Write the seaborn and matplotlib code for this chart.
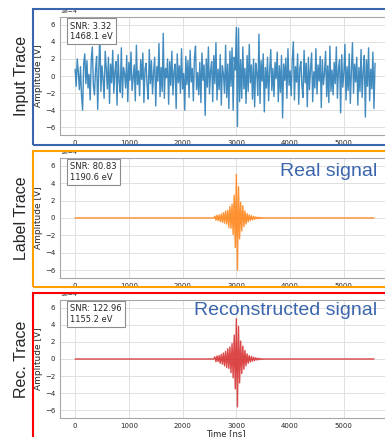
import numpy as np
import pandas as pd
import seaborn as sns
import matplotlib.pyplot as plt
from matplotlib.patches import Rectangle

# amplitudes in units of 1e-4 V
noise_step = 20  # ns between samples of the input trace
input_trace = [
    0.8, -1.2, 2.0, 0.4, -1.6, 1.1, -2.4, -4.0, 1.5, 2.6, -0.9, 1.8, -1.4, 0.2, -2.8, 1.9, 3.4, -1.1, -2.2, 0.7,
    2.3, -3.9, 0.6, 5.1, -1.8, 1.2, -0.3, -2.6, 2.9, 0.9, -1.5, 2.2, -3.2, 1.4, -0.8, 3.0, -2.0, 0.5, 1.7, -3.4,
    2.5, -0.7, -1.9, 3.3, -2.5, 1.0, 0.3, -1.4, 2.4, -3.0, 1.6, -0.5, 2.8, -1.7, -0.2, 1.3, -2.9, 3.6, -1.0, 0.6,
    -2.3, 1.9, -0.4, 2.7, -3.1, 0.8, 1.5, -1.2, -2.7, 3.1, -0.9, 1.8, -2.1, 0.4, 2.2, -3.5, 1.1, -0.6, 3.8, -2.4,
    1.0, -1.8, 5.0, -2.6, 0.9, -0.2, 2.0, -3.3, 1.7, -1.1, 2.9, -2.2, 0.5, 1.4, -3.8, 2.6, -0.8, 1.2, -2.0, 3.2,
    -1.5, 0.3, -4.0, 2.3, -1.0, 1.8, -2.5, 3.0, -0.7, 0.9, -2.9, 2.1, 3.5, -1.6, 0.4, -2.2, 1.6, -3.1, 2.7, -0.5,
    1.3, -4.6, 2.0, -1.3, 3.4, -2.1, 0.6, 1.7, -3.0, 2.4, -0.9, 3.9, -2.8, 0.8, -1.6, 2.5, -3.4, 1.2, 0.2, -2.0,
    3.6, -2.5, 1.4, -3.8, 2.9, -1.2, 3.3, -4.0, 2.2, 0.7, 5.7, -5.9, 5.6, -3.0, 1.9, -2.6, 3.4, -1.5, 0.9, -3.2,
    2.4, -1.8, 3.7, -0.8, 1.3, -2.7, 2.0, -3.6, 1.5, 0.4, -2.3, 4.9, -3.2, 1.8, -0.6, 2.6, -4.2, 1.0, -1.4, 2.2,
    -2.9, 0.7, 3.1, -1.7, 0.9, -2.4, 1.6, -0.3, 2.8, -3.0, 1.2, -1.9, 2.4, -4.9, 1.4, -0.5, 2.1, -2.6, 3.2, -1.1,
    0.6, -2.3, 1.8, 4.0, -2.8, 1.1, -0.7, 2.6, -3.3, 0.9, 1.7, -1.2, -2.5, 3.0, -0.8, 1.5, -3.6, 2.2, -1.6, 0.8,
    2.7, -3.0, 0.5, -1.4, 3.2, -2.1, 1.3, -0.6, 2.3, -3.7, 1.9, -1.0, 0.3, 2.9, -2.4, 1.2, -3.1, 3.5, -1.8, 0.7,
    -2.2, 1.6, -0.9, 3.4, -2.6, 0.8, 1.9, -4.3, 2.5, -1.3, 0.4, 3.7, -2.8, 1.1, -1.7, 2.6, -3.2, 0.6, 3.9, -2.0,
    1.4, -0.7, 2.2, -3.4, 1.0, -1.8, 3.1, -2.5, 0.5, 2.4, -4.8, 1.9, -1.2, 3.3, -2.9, 0.8, -1.5, 2.8, -3.8, 1.5,
]

pulse_start = 2600
pulse_step = 20
trace_end = 5560
label_pulse = [
    0.2, -0.25, 0.3, -0.3, 0.35, -0.4, 0.45, -0.5, 0.6, -0.6,
    0.8, -0.7, 0.9, -1.1, 1.3, -1.2, 1.6, -1.9, 2.6, -3.4,
    5.0, -6.0, 3.6, -2.4, 1.8, -1.5, 1.4, -1.0, 0.8, -0.7,
    0.5, -0.45, 0.35, -0.3, 0.25, -0.22, 0.18, -0.15, 0.12, -0.1,
    0.08, -0.07, 0.06, -0.05, 0.04, -0.03,
]
rec_pulse = [
    0.25, -0.3, 0.35, -0.3, 0.4, -0.5, 0.55, -0.6, 0.7, -0.8,
    0.9, -1.0, 1.2, -1.1, 1.4, -1.6, 1.8, -2.2, 2.8, -3.5,
    4.7, -5.6, 3.8, -2.8, 2.1, -1.7, 1.5, -1.2, 1.0, -0.8,
    0.6, -0.5, 0.4, -0.35, 0.3, -0.25, 0.2, -0.18, 0.14, -0.12,
    0.1, -0.08, 0.06, -0.05, 0.04, -0.03,
]

row_names = ["Input Trace", "Label Trace", "Rec. Trace"]
snr_labels = ["SNR: 3.32\n1468.1 eV", "SNR: 80.83\n1190.6 eV", "SNR: 122.96\n1155.2 eV"]
signal_titles = [None, "Real signal", "Reconstructed signal"]
line_colors = ["#1f77b4", "#ff7f0e", "#d62728"]
frame_colors = ["#3b66ad", "#ffa000", "#ff0000"]


def noise_df(vals):
    t = noise_step * np.arange(len(vals))
    return pd.DataFrame({"t": t, "amp": np.array(vals) * 1e-4})


def pulse_df(vals):
    # flat baseline before and after the pulse samples
    pt = pulse_start + pulse_step * np.arange(len(vals))
    t = np.concatenate([[0, pulse_start - pulse_step], pt, [pt[-1] + pulse_step, trace_end]])
    v = np.concatenate([[0.0, 0.0], vals, [0.0, 0.0]]) * 1e-4
    return pd.DataFrame({"t": t, "amp": v})


sns.set_theme(style="whitegrid")
plt.rcParams['font.family'] = ['DejaVu Sans']

fig = plt.figure(figsize=(3.85, 4.37), dpi=100)
# [left, bottom, width, height] in figure fraction, right edge runs past the figure
positions = [[0.156, 0.691, 0.860, 0.270],
             [0.156, 0.364, 0.860, 0.2746],
             [0.156, 0.0435, 0.860, 0.270]]
frames = [(9, 145), (151, 287), (293, 450)]  # top/bottom in px
dfs = [noise_df(input_trace), pulse_df(label_pulse), pulse_df(rec_pulse)]

for i in range(3):
    ax = fig.add_axes(positions[i])
    sns.lineplot(data=dfs[i], x="t", y="amp", ax=ax, color=line_colors[i],
                 lw=1.0, alpha=0.85, estimator=None)
    ax.set_xlim(-280, 5880)
    ax.set_ylim(-6.9e-4, 6.9e-4)
    ax.set_xticks([0, 1000, 2000, 3000, 4000, 5000])
    ax.set_yticks(np.arange(-6, 7, 2) * 1e-4)
    ax.ticklabel_format(axis='y', style='sci', scilimits=(0, 0))
    ax.yaxis.get_offset_text().set_fontsize(4.5)
    ax.tick_params(labelsize=5, length=2, width=0.6, color='0.6', pad=1.5, labelcolor='0.15')
    ax.grid(color='0.88', lw=0.7)
    for s in ax.spines.values():
        s.set_color('0.65')
        s.set_linewidth(0.8)
    ax.set_ylabel("Amplitude [V]", fontsize=6.5, labelpad=1)
    ax.set_xlabel("Time [ns]" if i == 2 else "", fontsize=6, labelpad=0)
    ax.text(0.03, 0.962, snr_labels[i], transform=ax.transAxes, fontsize=6,
            va='top', ha='left', linespacing=1.15,
            bbox=dict(boxstyle='square,pad=0.4', fc='white', ec='0.55', lw=0.8))
    if signal_titles[i]:
        ax.text(0.958, 0.89 if i == 1 else 0.91, signal_titles[i], transform=ax.transAxes,
                fontsize=14, color="#3b66ad", ha='right', va='center',
                family='Liberation Sans')

    l, b, w, h = positions[i]
    fig.text(0.057, b + h / 2, row_names[i], rotation=90, ha='center', va='center',
             fontsize=11.5, family='Liberation Sans')
    top, bot = frames[i]
    fig.patches.append(Rectangle((33 / 385, 1 - bot / 437), 1.0, (bot - top) / 437,
                                 transform=fig.transFigure, fill=False,
                                 ec=frame_colors[i], lw=1.5, clip_on=False))

fig.savefig("out.png", dpi=100)
